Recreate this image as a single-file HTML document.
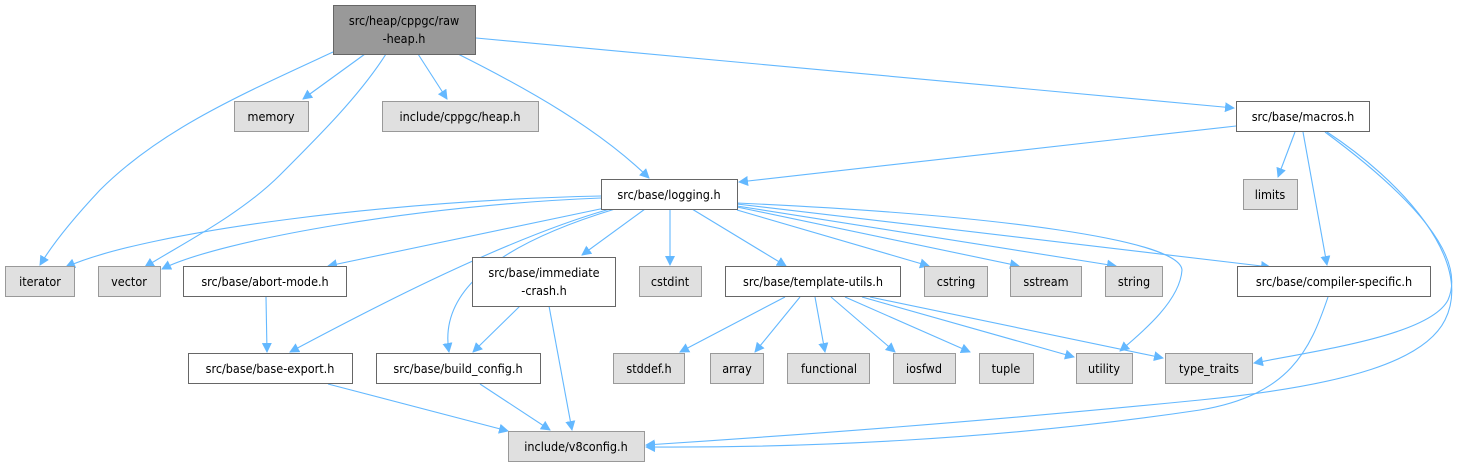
<!DOCTYPE html>
<html><head><meta charset="utf-8"><style>
html,body{margin:0;padding:0;background:#fff;}
svg{display:block;}
text{font-family:"DejaVu Sans Condensed","DejaVu Sans","Liberation Sans",sans-serif;font-size:12.5px;fill:#000;}
.e{fill:none;stroke:#63b8ff;stroke-width:1.1;}
.g{fill:#e0e0e0;stroke:#999;stroke-width:1;}
.w{fill:#fff;stroke:#666;stroke-width:1;}
</style></head><body>
<svg width="1460" height="467" viewBox="0 0 1460 467" xmlns="http://www.w3.org/2000/svg">
<defs><marker id="a" viewBox="0 0 10 10" refX="9" refY="5" markerWidth="10" markerHeight="10" markerUnits="userSpaceOnUse" orient="auto"><path d="M0,0 L10,5 L0,10 z" fill="#63b8ff"/></marker></defs>
<g marker-end="url(#a)">
<path class="e" d="M333,52 C240,95 160,130 100,190 C70,222 52,245 40,265"/>
<path class="e" d="M365,54 L303,99"/>
<path class="e" d="M386,54 C360,95 320,135 280,175 C240,215 180,245 145,267"/>
<path class="e" d="M418,54 L447,99"/>
<path class="e" d="M458,54 C530,90 600,130 649,178"/>
<path class="e" d="M476,38 L1234,108"/>
<path class="e" d="M1236,126 L739,182"/>
<path class="e" d="M1295,132 L1278,177"/>
<path class="e" d="M1303,132 L1327,265"/>
<path class="e" d="M1325,132 C1390,180 1470,250 1448,300 C1430,335 1320,350 1254,363"/>
<path class="e" d="M1327,132 C1400,180 1475,260 1445,320 C1425,360 1350,385 1200,400 C1000,420 800,435 646,445"/>
<path class="e" d="M1328,297 C1310,350 1290,395 1200,410 C1000,440 800,448 646,447"/>
<path class="e" d="M601,196 C400,200 150,230 66,267"/>
<path class="e" d="M601,198 C420,205 220,240 162,269"/>
<path class="e" d="M605,208 L328,266"/>
<path class="e" d="M610,209 C500,240 350,320 290,352"/>
<path class="e" d="M615,209 C480,250 440,300 449,352"/>
<path class="e" d="M645,209 L582,255"/>
<path class="e" d="M670,209 L670,265"/>
<path class="e" d="M692,209 L786,266"/>
<path class="e" d="M737,210 L929,266"/>
<path class="e" d="M737,207 L1019,266"/>
<path class="e" d="M737,206 L1116,266"/>
<path class="e" d="M737,204 L1270,267"/>
<path class="e" d="M737,203 C1000,215 1180,240 1182,270 C1180,300 1145,330 1120,351"/>
<path class="e" d="M520,306 L473,352"/>
<path class="e" d="M549,306 L572,430"/>
<path class="e" d="M266,297 L267,352"/>
<path class="e" d="M328,384 L508,431"/>
<path class="e" d="M480,384 L550,430"/>
<path class="e" d="M785,297 L680,352"/>
<path class="e" d="M800,297 L755,352"/>
<path class="e" d="M815,297 L825,352"/>
<path class="e" d="M831,297 L895,352"/>
<path class="e" d="M845,297 L970,352"/>
<path class="e" d="M862,297 L1074,357"/>
<path class="e" d="M870,297 L1163,358"/>
</g>
<rect x="333.5" y="5.5" width="142" height="49" fill="#999" stroke="#666"/>
<text x="404" y="25" text-anchor="middle">src/heap/cppgc/raw</text>
<text x="404" y="43" text-anchor="middle">-heap.h</text>
<rect class="g" x="234.5" y="101.5" width="74" height="30"/><text x="271" y="121" text-anchor="middle">memory</text>
<rect class="g" x="382.5" y="101.5" width="156" height="30"/><text x="460" y="121" text-anchor="middle">include/cppgc/heap.h</text>
<rect class="w" x="1236.5" y="101.5" width="133" height="30"/><text x="1303" y="121" text-anchor="middle">src/base/macros.h</text>
<rect class="w" x="601.5" y="179.5" width="136" height="30"/><text x="669" y="199" text-anchor="middle">src/base/logging.h</text>
<rect class="g" x="1243.5" y="179.5" width="54" height="30"/><text x="1270" y="199" text-anchor="middle">limits</text>
<rect class="g" x="5.5" y="266.5" width="69" height="30"/><text x="40" y="286" text-anchor="middle">iterator</text>
<rect class="g" x="98.5" y="266.5" width="62" height="30"/><text x="129" y="286" text-anchor="middle">vector</text>
<rect class="w" x="183.5" y="266.5" width="163" height="30"/><text x="265" y="286" text-anchor="middle">src/base/abort-mode.h</text>
<rect class="w" x="472.5" y="257.5" width="143" height="49"/><text x="544" y="277" text-anchor="middle">src/base/immediate</text><text x="544" y="295" text-anchor="middle">-crash.h</text>
<rect class="g" x="639.5" y="266.5" width="62" height="30"/><text x="670" y="286" text-anchor="middle">cstdint</text>
<rect class="w" x="725.5" y="266.5" width="175" height="30"/><text x="813" y="286" text-anchor="middle">src/base/template-utils.h</text>
<rect class="g" x="924.5" y="266.5" width="63" height="30"/><text x="956" y="286" text-anchor="middle">cstring</text>
<rect class="g" x="1010.5" y="266.5" width="71" height="30"/><text x="1046" y="286" text-anchor="middle">sstream</text>
<rect class="g" x="1105.5" y="266.5" width="57" height="30"/><text x="1134" y="286" text-anchor="middle">string</text>
<rect class="w" x="1237.5" y="266.5" width="193" height="30"/><text x="1334" y="286" text-anchor="middle">src/base/compiler-specific.h</text>
<rect class="w" x="188.5" y="353.5" width="164" height="30"/><text x="270" y="373" text-anchor="middle">src/base/base-export.h</text>
<rect class="w" x="376.5" y="353.5" width="164" height="30"/><text x="458" y="373" text-anchor="middle">src/base/build_config.h</text>
<rect class="g" x="613.5" y="353.5" width="71" height="30"/><text x="649" y="373" text-anchor="middle">stddef.h</text>
<rect class="g" x="710.5" y="353.5" width="53" height="30"/><text x="737" y="373" text-anchor="middle">array</text>
<rect class="g" x="787.5" y="353.5" width="82" height="30"/><text x="829" y="373" text-anchor="middle">functional</text>
<rect class="g" x="893.5" y="353.5" width="62" height="30"/><text x="924" y="373" text-anchor="middle">iosfwd</text>
<rect class="g" x="979.5" y="353.5" width="54" height="30"/><text x="1006" y="373" text-anchor="middle">tuple</text>
<rect class="g" x="1076.5" y="353.5" width="56" height="30"/><text x="1104" y="373" text-anchor="middle">utility</text>
<rect class="g" x="1165.5" y="353.5" width="87" height="30"/><text x="1209" y="373" text-anchor="middle">type_traits</text>
<rect class="g" x="508.5" y="431.5" width="136" height="30"/><text x="576" y="451" text-anchor="middle">include/v8config.h</text>
</svg>
</body></html>
